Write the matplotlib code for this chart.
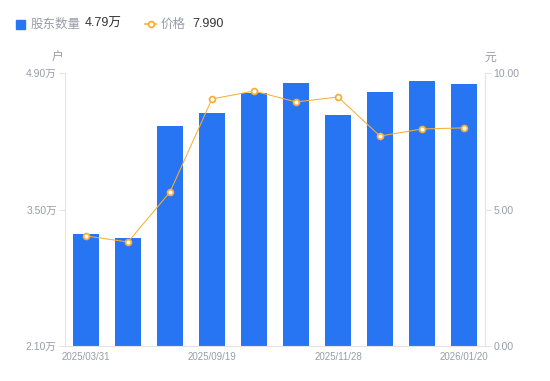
import matplotlib
matplotlib.use("Agg")
import matplotlib.pyplot as plt
from matplotlib.lines import Line2D

plt.rcParams['font.family'] = ['Liberation Sans', 'Noto Sans CJK SC', 'DejaVu Sans']

dates = ["2025/03/31", "2025/06/30", "2025/08/31", "2025/09/19", "2025/10/31",
         "2025/11/10", "2025/11/28", "2025/12/10", "2025/12/31", "2026/01/20"]
holders = [3.25, 3.21, 4.36, 4.49, 4.70, 4.80, 4.47, 4.71, 4.82, 4.79]  # 万户
prices = [4.03, 3.81, 5.64, 9.05, 9.34, 8.94, 9.12, 7.69, 7.95, 7.99]
left_ticks = [2.10, 3.50, 4.90]
right_ticks = [0.0, 5.0, 10.0]
shown_ticks = [0, 3, 6, 9]

BLUE = "#2775f2"
ORANGE = "#f7b033"
GRAY = "#9a9ca8"
LINE = "#e3e4e8"
DARK = "#333333"
CJK = ['Noto Sans CJK SC', 'DejaVu Sans']

fig = plt.figure(figsize=(5.5, 3.81), dpi=100)
ax = fig.add_axes([65/550, 35/381, 420/550, 273/381])
x = list(range(len(dates)))
ax.bar(x, [h - left_ticks[0] for h in holders], bottom=left_ticks[0], width=0.6, color=BLUE, zorder=2)
ax.set_ylim(left_ticks[0], left_ticks[-1])
ax.set_xlim(-0.5, len(dates) - 0.5)
ax.set_yticks(left_ticks)
ax.set_yticklabels([f"{v:.2f}万" for v in left_ticks])
ax.set_xticks([x[i] for i in shown_ticks])
ax.set_xticklabels([dates[i] for i in shown_ticks])

ax2 = ax.twinx()
ax2.plot(x, prices, color=ORANGE, lw=0.75, marker='o', ms=4.2, mfc='white', mec=ORANGE, mew=1.3, zorder=3)
ax2.set_ylim(right_ticks[0], right_ticks[-1])
ax2.set_yticks(right_ticks)
ax2.set_yticklabels([f"{v:.2f}" for v in right_ticks])

for a in (ax, ax2):
    for s in a.spines.values():
        s.set_visible(False)
    a.tick_params(colors=LINE, labelcolor=GRAY, labelsize=7.5, length=4, width=0.8)
ax.spines['left'].set_visible(True)
ax.spines['left'].set_color(LINE)
ax.spines['bottom'].set_visible(True)
ax.spines['bottom'].set_color(LINE)
ax2.spines['right'].set_visible(True)
ax2.spines['right'].set_color(LINE)
ax.tick_params(axis='x', length=0, pad=4, labelsize=7.0)
ax.tick_params(axis='y', pad=2)
ax2.tick_params(axis='y', pad=2)

fig.text(58/550, 1 - 57/381, "户", color=GRAY, fontsize=8.5, ha='center', va='center', family=CJK)
fig.text(490/550, 1 - 57/381, "元", color=GRAY, fontsize=8.5, ha='center', va='center', family=CJK)

# legend
fig.patches.append(plt.Rectangle((16/550, 1 - 29/381), 9/550, 9/381, transform=fig.transFigure,
                                 color=BLUE, figure=fig))
fig.text(31/550, 1 - 24/381, "股东数量", color=GRAY, fontsize=9, va='center', family=CJK)
fig.text(85/550, 1 - 24/381, "4.79万", color=DARK, fontsize=9, va='center')
fig.lines.append(Line2D([145/550, 156/550], [1 - 24/381, 1 - 24/381], transform=fig.transFigure,
                        color=ORANGE, lw=1.2, figure=fig))
fig.lines.append(Line2D([150.5/550], [1 - 24/381], transform=fig.transFigure, color=ORANGE,
                        marker='o', ms=4.2, mfc='white', mec=ORANGE, mew=1.3, figure=fig))
fig.text(161/550, 1 - 24/381, "价格", color=GRAY, fontsize=9, va='center', family=CJK)
fig.text(192/550, 1 - 24/381, "7.990", color=DARK, fontsize=9, va='center')

fig.savefig("out.png", dpi=100)
